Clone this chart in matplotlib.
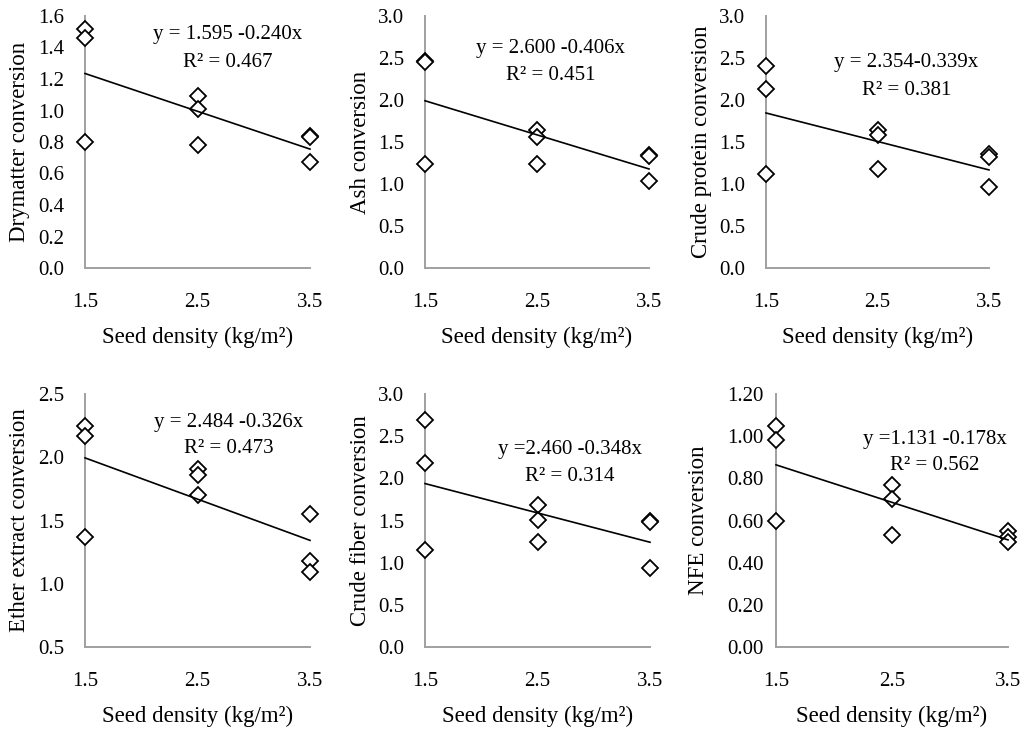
import numpy as np
import matplotlib
matplotlib.use("Agg")
import matplotlib.pyplot as plt

plt.rcParams['font.family'] = ['Liberation Serif', 'DejaVu Serif']

# ---- data ----
seed_density = [1.5, 1.5, 1.5, 2.5, 2.5, 2.5, 3.5, 3.5, 3.5]
drymatter = [1.52, 1.46, 0.80, 1.09, 1.01, 0.78, 0.84, 0.83, 0.67]
ash = [2.46, 2.45, 1.24, 1.64, 1.56, 1.24, 1.35, 1.33, 1.03]
crude_protein = [2.40, 2.13, 1.12, 1.64, 1.58, 1.18, 1.36, 1.32, 0.96]
ether_extract = [2.25, 2.17, 1.37, 1.91, 1.86, 1.70, 1.55, 1.18, 1.09]
crude_fiber = [2.69, 2.18, 1.15, 1.68, 1.51, 1.24, 1.49, 1.48, 0.94]
nfe = [1.05, 0.98, 0.60, 0.77, 0.70, 0.53, 0.55, 0.52, 0.50]

intercepts = [1.595, 2.600, 2.354, 2.484, 2.460, 1.131]
slopes = [-0.240, -0.406, -0.339, -0.326, -0.348, -0.178]
equations = ["y = 1.595 -0.240x", "y = 2.600 -0.406x", "y = 2.354-0.339x",
             "y = 2.484 -0.326x", "y =2.460 -0.348x", "y =1.131 -0.178x"]
r2_labels = ["R\u00b2 = 0.467", "R\u00b2 = 0.451", "R\u00b2 = 0.381",
             "R\u00b2 = 0.473", "R\u00b2 = 0.314", "R\u00b2 = 0.562"]
ylabels = ["Drymatter conversion", "Ash conversion", "Crude protein conversion",
           "Ether extract conversion", "Crude fiber conversion", "NFE conversion"]
xlabel = "Seed density (kg/m\u00b2)"
xticks = [1.5, 2.5, 3.5]
yticks_list = [
    [0.0, 0.2, 0.4, 0.6, 0.8, 1.0, 1.2, 1.4, 1.6],
    [0.0, 0.5, 1.0, 1.5, 2.0, 2.5, 3.0],
    [0.0, 0.5, 1.0, 1.5, 2.0, 2.5, 3.0],
    [0.5, 1.0, 1.5, 2.0, 2.5],
    [0.0, 0.5, 1.0, 1.5, 2.0, 2.5, 3.0],
    [0.0, 0.2, 0.4, 0.6, 0.8, 1.0, 1.2],
]
ytick_fmt = ["{:.1f}", "{:.1f}", "{:.1f}", "{:.1f}", "{:.1f}", "{:.2f}"]
series = [drymatter, ash, crude_protein, ether_extract, crude_fiber, nfe]

# ---- layout (pixel boxes: left, right, top, bottom) ----
W, H = 1025, 731
boxes = [(85, 310, 16, 268), (425, 649, 16, 268), (766, 989, 16, 268),
         (85, 310, 394, 647), (425, 650, 394, 647), (776, 1008, 394, 647)]
text_pos = [(0.636, 0.925, 0.817), (0.5625, 0.873, 0.762), (0.63, 0.817, 0.706),
            (0.64, 0.889, 0.783), (0.644, 0.779, 0.672), (0.685, 0.822, 0.719)]
ylab_off = [65, 65, 64, 65, 65, 78]
ypad = [15, 15, 15, 15, 15, 9]

fig = plt.figure(figsize=(W / 100, H / 100), dpi=100)
FS = 15
LFS = 16.5
spine_col = '#A0A0A0'

for i in range(6):
    l, r, t, b = boxes[i]
    ax = fig.add_axes([l / W, (H - b) / H, (r - l) / W, (b - t) / H])
    x = np.array(seed_density)
    y = np.array(series[i])
    ax.plot(x, y, linestyle='none', marker='D', markersize=8.6,
            markerfacecolor='white', markeredgecolor='black',
            markeredgewidth=1.3, clip_on=False, zorder=3)
    xl = np.array([x.min(), x.max()])
    ax.plot(xl, intercepts[i] + slopes[i] * xl, color='black', lw=1.2,
            zorder=4, clip_on=False)
    yt = yticks_list[i]
    ax.set_xlim(1.5, 3.5)
    ax.set_ylim(yt[0], yt[-1])
    ax.set_xticks(xticks)
    ax.set_xticklabels(["{:.1f}".format(v) for v in xticks])
    ax.set_yticks(yt)
    ax.set_yticklabels([ytick_fmt[i].format(v) for v in yt])
    ax.tick_params(axis='both', length=0, labelsize=FS, colors='black')
    ax.tick_params(axis='x', pad=18)
    ax.tick_params(axis='y', pad=ypad[i])
    for s in ['top', 'right']:
        ax.spines[s].set_visible(False)
    for s in ['left', 'bottom']:
        ax.spines[s].set_color(spine_col)
        ax.spines[s].set_linewidth(1.4)
    ax.patch.set_alpha(0)
    ax.set_ylabel(ylabels[i], fontsize=LFS)
    ax.yaxis.label.set_va('center')
    ax.yaxis.set_label_coords(-ylab_off[i] / (r - l), 0.5)
    ax.set_xlabel(xlabel, fontsize=LFS)
    ax.xaxis.label.set_va('center')
    ax.xaxis.set_label_coords(0.5, -69 / (b - t))
    tx, ty1, ty2 = text_pos[i]
    ax.text(tx, ty1, equations[i], transform=ax.transAxes, ha='center',
            va='center', fontsize=FS)
    ax.text(tx, ty2, r2_labels[i], transform=ax.transAxes, ha='center',
            va='center', fontsize=FS)

fig.savefig("out.png", dpi=100)
